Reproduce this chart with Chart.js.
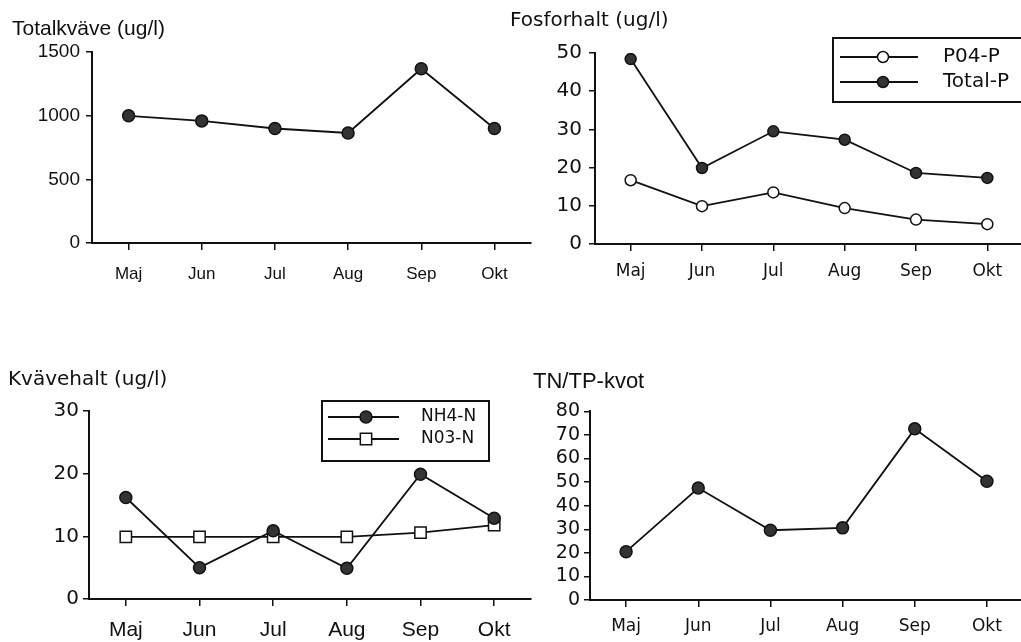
<!DOCTYPE html>
<html><head><meta charset="utf-8">
<script src="https://cdn.jsdelivr.net/npm/chart.js@4.4.1/dist/chart.umd.min.js"></script>
<style>
html,body{margin:0;padding:0;background:#fff;overflow:hidden;width:1021px;height:642px;}
.p{position:absolute;}
canvas{display:block;}
</style></head><body>
<div class="p" style="left:12px;top:17px"><canvas id="c1" width="535" height="283"></canvas></div>
<div class="p" style="left:510px;top:9px"><canvas id="c2" width="530" height="291"></canvas></div>
<div class="p" style="left:8px;top:368px"><canvas id="c3" width="540" height="274"></canvas></div>
<div class="p" style="left:533px;top:369px"><canvas id="c4" width="507" height="273"></canvas></div>
<script>
// ---- data ----
const months = ['Maj', 'Jun', 'Jul', 'Aug', 'Sep', 'Okt'];
const totalN = [1000, 960, 900, 865, 1370, 900];
const po4P = [16.7, 9.9, 13.5, 9.4, 6.4, 5.2];
const totalP = [48.4, 19.9, 29.5, 27.3, 18.6, 17.3];
const nh4N = [16.2, 5.0, 10.9, 4.9, 19.9, 12.9];
const no3N = [9.9, 9.9, 9.9, 9.9, 10.6, 11.8];
const tnTp = [20.5, 47.5, 29.6, 30.6, 72.6, 50.4];

const titles = ['Totalkväve (ug/l)', 'Fosforhalt (ug/l)', 'Kvävehalt (ug/l)', 'TN/TP-kvot'];
const seriesNames = ['P04-P', 'Total-P', 'NH4-N', 'N03-N'];

Chart.defaults.devicePixelRatio = 1;
Chart.defaults.color = '#111';

const LIB = '"Liberation Sans", Arial, sans-serif';
const DJV = '"DejaVu Sans", Verdana, sans-serif';

const boxLegend = {
  id: 'boxLegend',
  afterDraw(chart, args, o) {
    if (!o || !o.display) return;
    const ctx = chart.ctx;
    ctx.save();
    ctx.strokeStyle = '#111';
    ctx.lineWidth = 2;
    ctx.strokeRect(o.x, o.y, o.w, o.h);
    chart.data.datasets.forEach((ds, i) => {
      const y = o.row0 + i * o.rowGap;
      ctx.beginPath();
      ctx.moveTo(o.lineX0, y);
      ctx.lineTo(o.lineX1, y);
      ctx.strokeStyle = ds.borderColor;
      ctx.lineWidth = 1.8;
      ctx.stroke();
      ctx.fillStyle = ds.pointBackgroundColor;
      ctx.strokeStyle = ds.pointBorderColor;
      ctx.lineWidth = ds.pointBorderWidth;
      Chart.helpers.drawPoint(ctx, {pointStyle: ds.pointStyle, radius: ds.pointRadius, borderWidth: ds.pointBorderWidth, rotation: 0}, o.markerX, y);
      ctx.fillStyle = '#111';
      ctx.font = o.font;
      ctx.textBaseline = 'middle';
      ctx.textAlign = 'left';
      ctx.fillText(ds.label, o.textX, y);
    });
    ctx.restore();
  }
};

function ds(label, data, style, fill, r) {
  return {
    label, data,
    borderColor: '#111', borderWidth: 1.8,
    pointStyle: style, pointRadius: r, pointHoverRadius: r,
    pointBackgroundColor: fill, pointBorderColor: '#111', pointBorderWidth: 1.5,
    tension: 0, fill: false
  };
}

function make(id, cfg) {
  const xAxis = {
    type: 'category', offset: true,
    grid: {drawOnChartArea: false, drawTicks: true, tickLength: 7, color: '#111', lineWidth: 1.5},
    border: {display: true, color: '#111', width: 2},
    ticks: {font: cfg.xFont, color: '#111', padding: cfg.xPad, autoSkip: false, maxRotation: 0},
    afterFit: s => { s.height = cfg.xH; }
  };
  const yAxis = {
    min: cfg.yMin, max: cfg.yMax,
    grid: {drawOnChartArea: false, drawTicks: true, tickLength: 6, color: '#111', lineWidth: 1.5},
    border: {display: true, color: '#111', width: 2},
    ticks: {stepSize: cfg.step, font: cfg.yFont, color: '#111', padding: cfg.yPad, autoSkip: false,
            callback: v => String(v)},
    afterFit: s => { s.width = cfg.yW; }
  };
  return new Chart(document.getElementById(id), {
    type: 'line',
    data: {labels: months, datasets: cfg.datasets},
    plugins: [boxLegend],
    options: {
      responsive: false, animation: false,
      layout: {padding: {top: 0, left: 0, right: cfg.rp, bottom: 0}},
      scales: {x: xAxis, y: yAxis},
      plugins: {
        legend: {display: false}, tooltip: {enabled: false},
        title: {display: true, text: cfg.title, align: 'start', color: '#111', font: cfg.tFont, padding: {top: 0, bottom: cfg.tPad}},
        boxLegend: cfg.legend || {display: false}
      }
    }
  });
}

make('c1', {
  title: titles[0], tFont: {family: LIB, size: 21, weight: 'normal'}, tPad: 10,
  datasets: [ds('Totalkväve', totalN, 'circle', '#333', 6)],
  yMin: 0, yMax: 1500, step: 500, yW: 80, yPad: 6, yFont: {family: LIB, size: 19},
  xH: 57, xPad: 14, xFont: {family: LIB, size: 17}, rp: 16
});

make('c2', {
  title: titles[1], tFont: {family: DJV, size: 20, weight: 'normal'}, tPad: 20,
  datasets: [ds(seriesNames[0], po4P, 'circle', '#fff', 5.5), ds(seriesNames[1], totalP, 'circle', '#333', 5.5)],
  yMin: 0, yMax: 50, step: 10, yW: 85, yPad: 7, yFont: {family: DJV, size: 20},
  xH: 56, xPad: 10, xFont: {family: DJV, size: 17}, rp: 17,
  legend: {display: true, x: 323, y: 29, w: 260, h: 64, row0: 48, rowGap: 25, lineX0: 330, lineX1: 408, markerX: 373, textX: 433, font: '20px "DejaVu Sans"'}
});

make('c3', {
  title: titles[2], tFont: {family: DJV, size: 20, weight: 'normal'}, tPad: 19,
  datasets: [ds(seriesNames[2], nh4N, 'circle', '#333', 6), ds(seriesNames[3], no3N, 'rect', '#fff', 8)],
  yMin: 0, yMax: 30, step: 10, yW: 81, yPad: 4, yFont: {family: DJV, size: 20},
  xH: 43, xPad: 12, xFont: {family: LIB, size: 21}, rp: 17,
  legend: {display: true, x: 314, y: 33, w: 167, h: 60, row0: 49, rowGap: 22, lineX0: 320, lineX1: 391, markerX: 358, textX: 413, font: '17px "DejaVu Sans"'}
});

make('c4', {
  title: titles[3], tFont: {family: LIB, size: 22, weight: 'normal'}, tPad: 16,
  datasets: [ds('TN/TP', tnTp, 'circle', '#333', 6)],
  yMin: 0, yMax: 80, step: 10, yW: 57, yPad: 4, yFont: {family: DJV, size: 19},
  xH: 42, xPad: 9, xFont: {family: DJV, size: 17}, rp: 17
});
</script>
</body></html>
